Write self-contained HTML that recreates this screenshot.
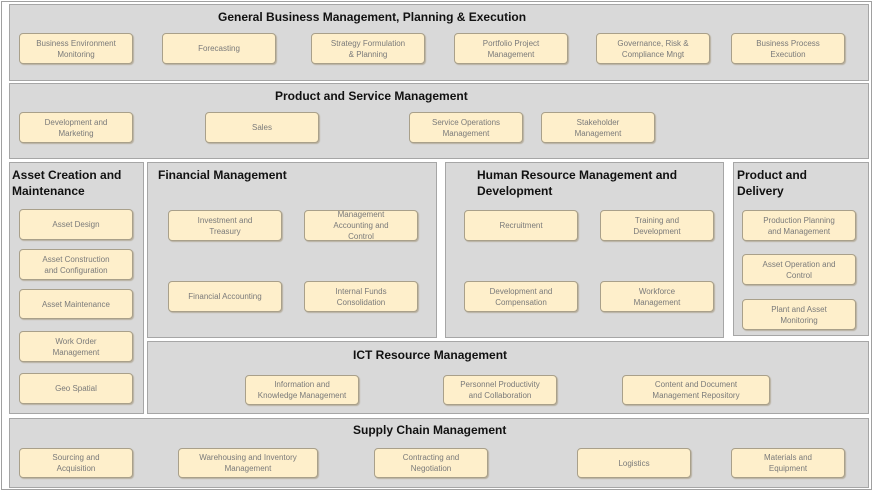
<!DOCTYPE html>
<html><head><meta charset="utf-8"><style>
body{margin:0;width:873px;height:491px;background:#fff;position:relative;overflow:hidden;font-family:"Liberation Sans",sans-serif}
.o{position:absolute;left:1px;top:1px;width:869px;height:487px;border:1px solid #a0a0a0}
.p{position:absolute;background:#d9d9d9;border:1px solid #a6a6a6;box-sizing:border-box}
.t{position:absolute;font-weight:bold;font-size:12px;color:#111;line-height:16px;white-space:nowrap}
.b{position:absolute;background:#feefcb;border:1.5px solid #a9a08a;border-radius:4px;box-sizing:border-box;display:flex;align-items:center;justify-content:center;text-align:center;font-size:8px;line-height:11px;color:#7a7a7a;box-shadow:1px 1px 1px #b8b0a0}
</style></head><body>
<div class="o"></div>
<div class="p" style="left:9px;top:4px;width:860px;height:77px"></div>
<div class="t" style="left:218px;top:9px">General Business Management, Planning &amp; Execution</div>
<div class="p" style="left:9px;top:83px;width:860px;height:76px"></div>
<div class="t" style="left:275px;top:88px">Product and Service Management</div>
<div class="p" style="left:9px;top:162px;width:135px;height:252px"></div>
<div class="t" style="left:12px;top:167px">Asset Creation and<br>Maintenance</div>
<div class="p" style="left:147px;top:162px;width:290px;height:176px"></div>
<div class="t" style="left:158px;top:167px">Financial Management</div>
<div class="p" style="left:445px;top:162px;width:279px;height:176px"></div>
<div class="t" style="left:477px;top:167px">Human Resource Management and<br>Development</div>
<div class="p" style="left:733px;top:162px;width:136px;height:174px"></div>
<div class="t" style="left:737px;top:167px">Product and<br>Delivery</div>
<div class="p" style="left:147px;top:341px;width:722px;height:73px"></div>
<div class="t" style="left:353px;top:347px">ICT Resource Management</div>
<div class="p" style="left:9px;top:418px;width:860px;height:70px"></div>
<div class="t" style="left:353px;top:422px">Supply Chain Management</div>

<div class="b" style="left:19px;top:33px;width:114px;height:31px">Business Environment<br>Monitoring</div>
<div class="b" style="left:162px;top:33px;width:114px;height:31px">Forecasting</div>
<div class="b" style="left:311px;top:33px;width:114px;height:31px">Strategy Formulation<br>&amp; Planning</div>
<div class="b" style="left:454px;top:33px;width:114px;height:31px">Portfolio Project<br>Management</div>
<div class="b" style="left:596px;top:33px;width:114px;height:31px">Governance, Risk &amp;<br>Compliance Mngt</div>
<div class="b" style="left:731px;top:33px;width:114px;height:31px">Business Process<br>Execution</div>

<div class="b" style="left:19px;top:112px;width:114px;height:31px">Development and<br>Marketing</div>
<div class="b" style="left:205px;top:112px;width:114px;height:31px">Sales</div>
<div class="b" style="left:409px;top:112px;width:114px;height:31px">Service Operations<br>Management</div>
<div class="b" style="left:541px;top:112px;width:114px;height:31px">Stakeholder<br>Management</div>

<div class="b" style="left:19px;top:209px;width:114px;height:31px">Asset Design</div>
<div class="b" style="left:19px;top:249px;width:114px;height:31px">Asset Construction<br>and Configuration</div>
<div class="b" style="left:19px;top:289px;width:114px;height:30px">Asset Maintenance</div>
<div class="b" style="left:19px;top:331px;width:114px;height:31px">Work Order<br>Management</div>
<div class="b" style="left:19px;top:373px;width:114px;height:31px">Geo Spatial</div>

<div class="b" style="left:168px;top:210px;width:114px;height:31px">Investment and<br>Treasury</div>
<div class="b" style="left:304px;top:210px;width:114px;height:31px">Management<br>Accounting and<br>Control</div>
<div class="b" style="left:168px;top:281px;width:114px;height:31px">Financial Accounting</div>
<div class="b" style="left:304px;top:281px;width:114px;height:31px">Internal Funds<br>Consolidation</div>

<div class="b" style="left:464px;top:210px;width:114px;height:31px">Recruitment</div>
<div class="b" style="left:600px;top:210px;width:114px;height:31px">Training and<br>Development</div>
<div class="b" style="left:464px;top:281px;width:114px;height:31px">Development and<br>Compensation</div>
<div class="b" style="left:600px;top:281px;width:114px;height:31px">Workforce<br>Management</div>

<div class="b" style="left:742px;top:210px;width:114px;height:31px">Production Planning<br>and Management</div>
<div class="b" style="left:742px;top:254px;width:114px;height:31px">Asset Operation and<br>Control</div>
<div class="b" style="left:742px;top:299px;width:114px;height:31px">Plant and Asset<br>Monitoring</div>

<div class="b" style="left:245px;top:375px;width:114px;height:30px">Information and<br>Knowledge Management</div>
<div class="b" style="left:443px;top:375px;width:114px;height:30px">Personnel Productivity<br>and Collaboration</div>
<div class="b" style="left:622px;top:375px;width:148px;height:30px">Content and Document<br>Management Repository</div>

<div class="b" style="left:19px;top:448px;width:114px;height:30px">Sourcing and<br>Acquisition</div>
<div class="b" style="left:178px;top:448px;width:140px;height:30px">Warehousing and Inventory<br>Management</div>
<div class="b" style="left:374px;top:448px;width:114px;height:30px">Contracting and<br>Negotiation</div>
<div class="b" style="left:577px;top:448px;width:114px;height:30px">Logistics</div>
<div class="b" style="left:731px;top:448px;width:114px;height:30px">Materials and<br>Equipment</div>
</body></html>
